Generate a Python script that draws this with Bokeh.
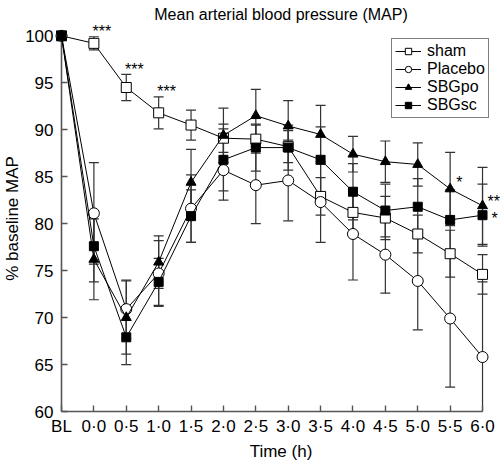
from bokeh.plotting import figure
from bokeh.models import FixedTicker, Whisker, TeeHead, ColumnDataSource, Legend, LegendItem
from bokeh.embed import file_html
from bokeh.resources import INLINE
from bokeh.core.properties import value

# ---- data ----
time_labels = ["BL", "0\u00b70", "0\u00b75", "1\u00b70", "1\u00b75", "2\u00b70", "2\u00b75", "3\u00b70",
               "3\u00b75", "4\u00b70", "4\u00b75", "5\u00b70", "5\u00b75", "6\u00b70"]
y_ticks = [60, 65, 70, 75, 80, 85, 90, 95, 100]

sham = [100, 99.2, 94.5, 91.8, 90.5, 89.1, 89.0, 88.2, 82.9, 81.2, 80.6, 78.9, 76.8, 74.6]
sham_sem = [0, 0.7, 1.4, 1.7, 1.6, 1.5, 1.5, 1.7, 2.0, 2.2, 2.3, 2.0, 2.5, 2.1]
placebo = [100, 81.1, 70.9, 74.7, 81.6, 85.7, 84.1, 84.6, 82.3, 78.9, 76.7, 73.9, 69.9, 65.8]
placebo_sem = [0, 5.4, 3.1, 3.5, 3.6, 3.2, 4.1, 4.3, 4.3, 4.9, 4.1, 5.2, 7.3, 8.0]
sbgpo = [100, 76.2, 70.0, 75.9, 84.4, 89.4, 91.5, 90.4, 89.5, 87.4, 86.6, 86.3, 83.7, 81.9]
sbgpo_sem = [0, 4.3, 3.9, 2.8, 3.5, 2.9, 2.8, 2.7, 3.1, 1.9, 2.2, 2.3, 3.9, 4.1]
sbgsc = [100, 77.6, 67.9, 73.8, 80.8, 86.8, 88.1, 88.1, 86.8, 83.4, 81.4, 81.8, 80.4, 80.9]
sbgsc_sem = [0, 3.8, 2.9, 2.5, 2.8, 3.3, 2.5, 2.4, 3.5, 3.0, 2.8, 3.0, 3.2, 3.3]

sham_sig = ["", "***", "***", "***", "", "", "", "", "", "", "", "", "", ""]
sbgpo_sig = ["", "", "", "", "", "", "", "", "", "", "", "", "*", "**"]
sbgsc_sig = ["", "", "", "", "", "", "", "", "", "", "", "", "", "*"]

series_names = ["sham", "Placebo", "SBGpo", "SBGsc"]
title_text = "Mean arterial blood pressure (MAP)"

FONT = "Liberation Sans"
x = list(range(len(time_labels)))

p = figure(width=501, height=468, output_backend="svg", toolbar_location=None,
           x_range=(0, 13.555), y_range=(60, 101.1),
           min_border_left=61, min_border_right=1, min_border_top=25, min_border_bottom=57,
           title=title_text)
p.outline_line_color = None
p.grid.visible = False
p.background_fill_color = "white"
p.border_fill_color = "white"

p.title.align = "center"
p.title.text_font = FONT
p.title.text_font_size = "16px"
p.title.text_font_style = "normal"
p.title.text_color = "black"
p.title.standoff = 5

# axes
p.xaxis.ticker = FixedTicker(ticks=x)
p.xaxis.major_label_overrides = {i: lab for i, lab in enumerate(time_labels)}
p.xaxis.bounds = (0, len(time_labels) - 1)
p.yaxis.ticker = FixedTicker(ticks=y_ticks)
p.yaxis.bounds = (y_ticks[0], y_ticks[-1])
p.xaxis.axis_label = "Time (h)"
p.yaxis.axis_label = "% baseline MAP"
for ax in (p.xaxis, p.yaxis):
    ax.axis_line_color = "#555555"
    ax.axis_line_width = 1.6
    ax.major_tick_line_color = "#555555"
    ax.major_tick_line_width = 1.4
    ax.major_tick_in = 6
    ax.major_tick_out = 0
    ax.minor_tick_line_color = None
    ax.major_label_text_font = FONT
    ax.major_label_text_font_size = "17px"
    ax.major_label_text_color = "black"
    ax.axis_label_text_font = FONT
    ax.axis_label_text_font_size = "17px"
    ax.axis_label_text_font_style = "normal"
    ax.axis_label_text_color = "black"
    ax.major_label_standoff = 8
    ax.axis_label_standoff = 0
p.xaxis.major_label_standoff = 5
p.xaxis.axis_label_standoff = 3

# error bars
for vals, sems in [(sham, sham_sem), (placebo, placebo_sem), (sbgpo, sbgpo_sem), (sbgsc, sbgsc_sem)]:
    src = ColumnDataSource(dict(
        x=x[1:],
        upper=[v + s for v, s in zip(vals[1:], sems[1:])],
        lower=[v - s for v, s in zip(vals[1:], sems[1:])]))
    w = Whisker(source=src, base="x", upper="upper", lower="lower",
                line_color="#333333", line_width=1.2,
                upper_head=TeeHead(size=10, line_color="#333333", line_width=1.2),
                lower_head=TeeHead(size=10, line_color="#333333", line_width=1.2))
    p.add_layout(w)

styles = [
    dict(marker="square", size=10, fill_color="white"),
    dict(marker="circle", size=11, fill_color="white"),
    dict(marker="triangle", size=10, fill_color="black"),
    dict(marker="square", size=9, fill_color="black"),
]
items = []
for name, vals, st in zip(series_names, [sham, placebo, sbgpo, sbgsc], styles):
    lr = p.line(x, vals, line_color="black", line_width=1, level="overlay")
    mr = p.scatter(x, vals, marker=st["marker"], size=st["size"], fill_color=st["fill_color"],
                   line_color="black", line_width=1, level="overlay")
    items.append(LegendItem(label=name, renderers=[lr, mr]))

legend = Legend(items=items, location=(330, 293))
legend.label_text_font = FONT
legend.label_text_font_size = "16px"
legend.label_text_color = "black"
legend.label_standoff = 6
legend.glyph_width = 26
legend.glyph_height = 16
legend.label_height = 16
legend.spacing = 0
legend.padding = 3
legend.margin = 0
legend.border_line_color = "black"
legend.border_line_width = 1
legend.background_fill_color = "white"
legend.background_fill_alpha = 1
p.add_layout(legend)

# significance marks
sx, sy, st_, align, xo, yo = [], [], [], [], [], []
for i, s in enumerate(sham_sig):
    if s:
        sx.append(i); sy.append(sham[i] + sham_sem[i]); st_.append(s)
        align.append("center"); xo.append(8); yo.append(-5)
for i, s in enumerate(sbgpo_sig):
    if s:
        sx.append(i); sy.append(sbgpo[i]); st_.append(s)
        align.append("left"); xo.append(6 if i < 13 else 5); yo.append(-6 if i < 13 else -4)
for i, s in enumerate(sbgsc_sig):
    if s:
        sx.append(i); sy.append(sbgsc[i]); st_.append(s)
        align.append("left"); xo.append(9); yo.append(3)
tsrc = ColumnDataSource(dict(x=sx, y=sy, text=st_, align=align, xo=xo, yo=yo))
p.text(x="x", y="y", text="text", source=tsrc, text_align="align", x_offset="xo", y_offset="yo",
       text_baseline="alphabetic", text_font=value(FONT), text_font_size="16px",
       text_color="black", level="overlay")

open("out.html", "w").write(file_html(p, INLINE))
